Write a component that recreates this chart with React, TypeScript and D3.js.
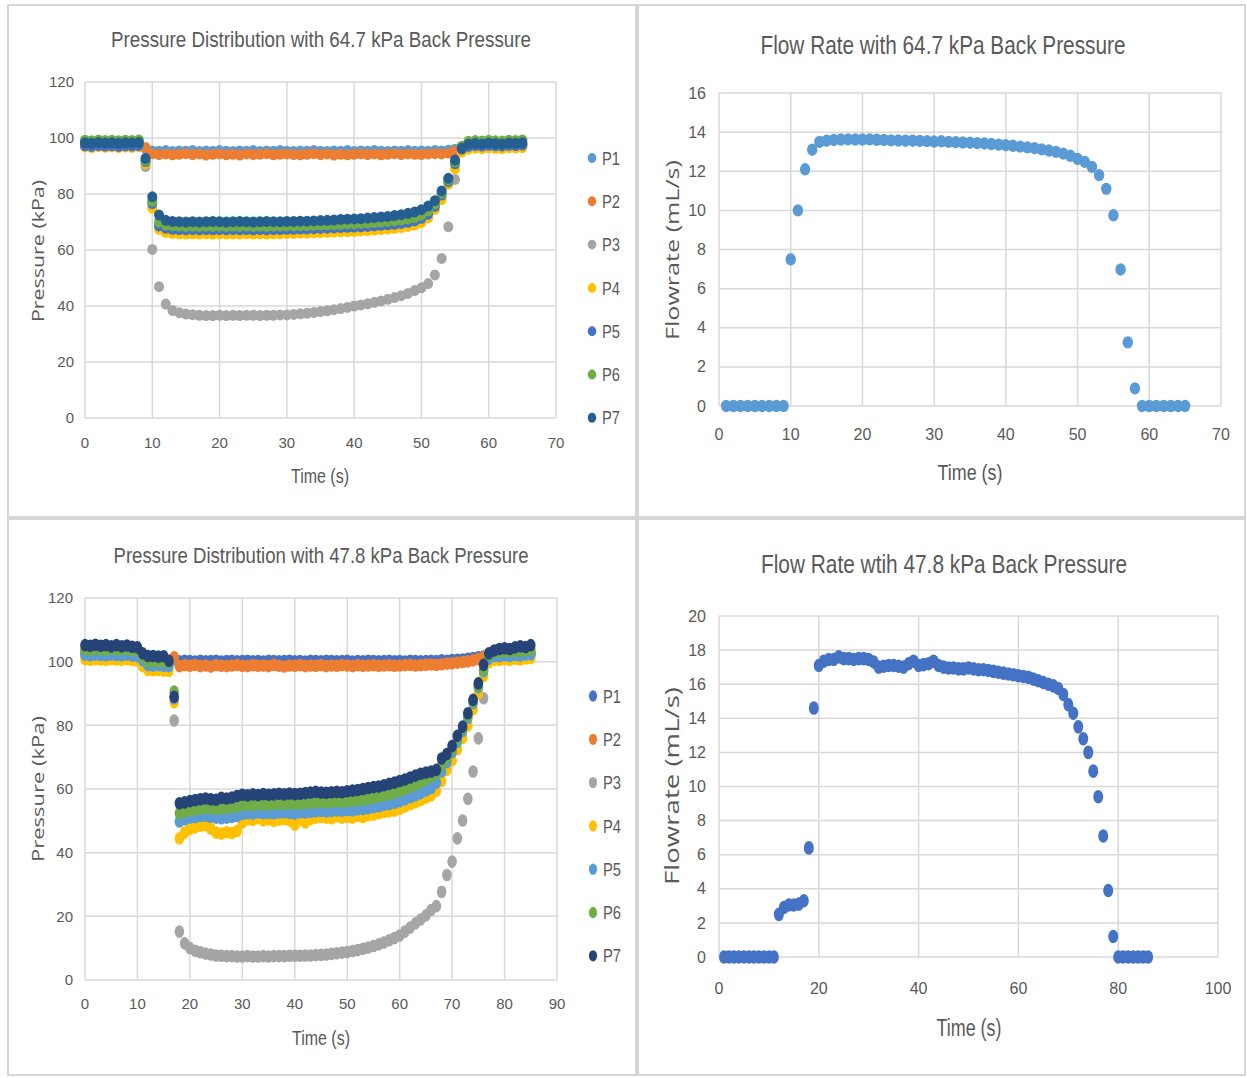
import React from "react";
import * as d3 from "d3";

// ---------- Pressure run, 64.7 kPa back pressure (t = 0..65 s) ----------
const timeA = d3.range(0, 66);
const a_P1 = [97.6,97.4,97.7,97.5,97.6,97.4,97.6,97.5,97.7,
  96.2,
  95.4,95.3,95.5,95.2,95.4,95.3,95.5,95.2,95.4,95.3,
  95.5,95.3,95.2,95.4,95.3,95.5,95.2,95.4,95.3,95.5,
  95.3,95.2,95.4,95.3,95.5,95.3,95.2,95.4,95.3,95.5,
  95.2,95.4,95.3,95.5,95.3,95.2,95.4,95.3,95.5,95.3,
  95.4,95.3,95.5,95.4,95.6,
  96.0,96.8,
  97.3,97.5,97.2,97.6,97.4,97.3,97.6,97.5,97.7];
const a_P2 = [97.8,97.6,97.9,97.7,97.8,97.6,97.8,97.7,97.9,
  96.6,
  94.4,94.1,94.3,94.0,94.2,94.4,94.1,94.3,93.9,94.2,
  94.3,94.0,94.2,93.9,94.3,94.1,94.2,94.4,94.0,94.2,
  94.3,94.1,94.0,94.2,94.4,94.1,94.3,93.9,94.2,94.0,
  94.2,94.3,94.1,94.3,94.0,94.2,94.4,94.1,94.3,94.2,
  94.1,94.3,94.4,94.3,94.6,
  95.3,97.0,
  97.6,97.8,97.5,97.9,97.7,97.6,97.9,97.8,98.0];
const a_P3 = [97.5,97.3,97.6,97.4,97.5,97.3,97.5,97.4,97.6,
  89.8,
  60.2,46.9,40.7,38.4,37.6,37.1,36.9,36.7,36.6,36.6,
  36.7,36.6,36.7,36.6,36.7,36.7,36.6,36.7,36.7,36.8,
  36.8,37.0,37.2,37.4,37.7,38.0,38.3,38.7,39.1,39.5,
  40.0,40.4,40.8,41.3,41.8,42.4,43.0,43.7,44.5,45.5,
  46.5,48.0,51.1,57.0,68.3,
  85.2,96.2,
  97.2,97.4,97.1,97.5,97.3,97.2,97.5,97.4,97.6];
const a_P4 = [96.8,96.6,96.9,96.7,96.8,96.6,96.8,96.7,96.9,
  90.8,
  75.0,67.4,66.3,65.9,65.8,65.7,65.8,65.7,65.8,65.7,
  65.8,65.7,65.8,65.7,65.8,65.7,65.8,65.7,65.8,65.8,
  65.9,65.9,66.0,66.0,66.1,66.2,66.3,66.4,66.5,66.6,
  66.7,66.8,66.9,67.1,67.3,67.5,67.7,68.0,68.4,68.9,
  69.8,71.5,74.5,78.0,83.5,
  89.0,95.0,
  96.0,96.4,96.2,96.5,96.3,96.2,96.5,96.4,96.6];
const a_P5 = [97.2,97.0,97.3,97.1,97.2,97.0,97.2,97.1,97.3,
  91.6,
  76.6,68.6,67.8,67.4,67.3,67.2,67.3,67.2,67.3,67.2,
  67.3,67.2,67.3,67.2,67.3,67.2,67.3,67.2,67.3,67.3,
  67.4,67.4,67.5,67.5,67.6,67.7,67.8,67.9,68.0,68.1,
  68.2,68.3,68.4,68.6,68.8,69.0,69.2,69.5,69.9,70.4,
  71.3,72.8,75.6,79.6,84.4,
  90.8,96.0,
  97.0,97.3,97.1,97.4,97.2,97.1,97.4,97.3,97.5];
const a_P6 = [99.2,99.0,99.3,99.1,99.2,99.0,99.2,99.1,99.3,
  92.0,
  77.4,70.0,68.9,68.6,68.5,68.4,68.5,68.4,68.5,68.4,
  68.5,68.4,68.5,68.4,68.5,68.4,68.5,68.4,68.5,68.5,
  68.6,68.6,68.7,68.7,68.8,68.9,69.0,69.1,69.2,69.3,
  69.4,69.5,69.6,69.8,70.0,70.2,70.4,70.7,71.1,71.6,
  72.5,74.0,76.5,80.3,85.0,
  91.5,97.0,
  98.8,99.1,98.9,99.2,99.0,98.9,99.2,99.1,99.3];
const a_P7 = [98.3,98.1,98.4,98.2,98.3,98.1,98.3,98.2,98.4,
  92.7,
  79.0,72.5,70.6,70.2,70.1,70.0,70.1,70.0,70.1,70.2,
  70.1,70.0,70.1,70.2,70.1,70.0,70.1,70.2,70.1,70.1,
  70.2,70.2,70.3,70.3,70.4,70.5,70.6,70.7,70.9,71.0,
  71.1,71.2,71.4,71.6,71.8,72.0,72.3,72.6,73.1,73.6,
  74.4,75.7,77.6,81.1,85.6,
  92.1,96.3,
  97.8,98.1,97.9,98.2,98.0,97.9,98.2,98.1,98.3];

// ---------- Flow run, 64.7 kPa back pressure (t = 1..65 s) ----------
const timeB = d3.range(1, 66);
const flowB = [0,0,0,0,0,0,0,0,0,
  7.5,10.0,12.1,13.1,13.5,13.56,13.6,13.62,13.63,13.62,
  13.62,13.63,13.61,13.6,13.58,13.57,13.56,13.56,13.55,13.54,
  13.52,13.53,13.5,13.49,13.47,13.46,13.44,13.42,13.39,13.36,
  13.33,13.3,13.26,13.22,13.18,13.12,13.06,12.99,12.9,12.79,
  12.63,12.48,12.22,11.8,11.1,9.75,6.98,3.25,0.9,
  0,0,0,0,0,0,0];

// ---------- Pressure run, 47.8 kPa back pressure (t = 0..85 s) ----------
const timeC = d3.range(0, 86);
const c_P1 = [102.4,102.2,102.4,102.3,102.2,102.4,102.3,102.2,102.4,102.1,102.0,
  100.8,
  99.6,99.5,99.6,99.4,99.3,
  100.8,
  100.1,100.3,100.2,100.0,100.3,100.1,100.2,100.3,100.0,100.2,
  100.3,100.1,100.2,100.3,100.1,100.2,100.0,100.3,100.2,100.1,
  100.2,100.3,100.1,100.2,100.0,100.3,100.2,100.1,100.3,100.2,
  100.1,100.2,100.3,100.0,100.2,100.1,100.3,100.2,100.1,100.2,
  100.3,100.1,100.2,100.0,100.3,100.2,100.1,100.2,100.3,100.2,
  100.4,100.3,100.5,100.6,100.7,100.9,101.1,101.4,
  101.6,
  102.0,102.2,102.1,102.3,102.2,102.4,102.3,102.5,102.6];
const c_P2 = [103.0,102.8,103.0,102.9,102.8,103.0,102.9,102.8,103.0,102.7,102.6,
  101.2,
  99.8,99.7,99.8,99.6,99.5,
  101.4,
  98.6,98.9,98.7,99.0,98.6,98.8,98.5,98.9,98.7,98.6,
  98.8,99.0,98.7,98.6,98.9,98.7,98.8,98.6,99.0,98.7,
  98.5,98.8,98.7,98.9,98.6,98.8,98.7,98.9,98.6,98.8,
  98.7,98.9,98.8,98.6,98.9,98.7,98.8,98.9,98.7,98.8,
  98.9,98.7,98.8,98.9,99.0,98.8,98.9,99.0,99.1,99.0,
  99.2,99.4,99.5,99.7,99.9,100.1,100.4,100.8,
  101.4,
  102.4,102.6,102.5,102.7,102.6,102.8,102.7,102.9,103.0];
const c_P3 = [102.3,102.1,102.3,102.2,102.1,102.3,102.2,102.1,102.3,102.0,101.9,
  100.4,
  99.2,99.1,99.2,99.0,98.9,
  81.5,
  15.2,11.5,10.0,9.2,8.7,8.3,8.0,7.7,7.6,7.5,
  7.5,7.4,7.4,7.5,7.4,7.4,7.5,7.4,7.5,7.5,
  7.5,7.6,7.6,7.6,7.7,7.7,7.8,7.9,8.0,8.2,
  8.4,8.6,8.8,9.1,9.4,9.8,10.2,10.7,11.2,11.8,
  12.5,13.2,14.0,15.2,16.5,17.8,19.0,20.3,22.0,23.2,
  27.7,33.0,37.2,44.5,50.1,56.9,65.5,75.9,
  88.5,
  100.6,101.5,101.8,102.0,101.9,102.2,102.1,102.3,102.4];
const c_P4 = [100.8,100.6,100.8,100.7,100.6,100.8,100.7,100.6,100.8,100.5,100.4,
  98.6,
  97.4,97.3,97.4,97.2,97.1,
  87.3,
  44.5,46.3,47.5,48.0,48.5,48.6,47.5,46.3,46.0,46.4,
  46.2,46.8,49.5,50.5,50.3,50.8,50.2,50.5,50.0,50.4,
  50.6,50.2,48.8,50.4,49.5,50.6,51.0,51.2,51.0,50.8,
  51.4,51.0,51.3,51.0,51.5,51.2,51.8,52.0,52.4,52.8,
  53.0,53.2,53.8,54.5,55.2,55.8,56.5,57.3,58.0,59.5,
  62.5,66.0,69.0,72.5,76.0,80.0,85.0,90.0,
  95.5,
  99.8,100.6,100.5,100.8,100.6,100.9,100.7,101.0,101.1];
const c_P5 = [102.2,102.0,102.2,102.1,102.0,102.2,102.1,102.0,102.2,101.9,101.8,
  100.4,
  98.9,98.8,98.9,98.7,98.6,
  88.5,
  49.8,50.5,51.0,51.2,51.5,51.6,51.3,51.0,50.8,51.0,
  51.2,51.5,52.2,52.4,52.3,52.6,52.4,52.5,52.4,52.6,
  52.7,52.5,52.3,52.7,52.6,52.8,53.0,53.1,53.0,53.1,
  53.3,53.2,53.4,53.3,53.6,53.7,54.0,54.3,54.6,55.0,
  55.3,55.7,56.2,56.8,57.4,58.0,58.7,59.5,60.3,62.0,
  65.5,68.5,71.5,74.8,78.2,82.3,87.0,92.0,
  97.0,
  101.0,101.8,101.7,102.0,101.8,102.1,101.9,102.2,102.3];
const c_P6 = [104.0,103.8,104.0,103.9,103.8,104.0,103.9,103.8,104.0,103.7,103.6,
  101.6,
  100.2,100.1,100.2,100.0,99.9,
  90.6,
  52.4,53.0,53.3,53.6,53.8,54.0,54.0,53.8,53.9,54.1,
  54.3,54.6,55.0,55.1,55.0,55.2,55.1,55.3,55.2,55.4,
  55.3,55.5,55.4,55.5,55.6,55.7,55.8,55.9,55.8,56.0,
  56.1,56.0,56.2,56.3,56.5,56.7,57.0,57.3,57.7,58.0,
  58.4,58.9,59.4,60.0,60.7,61.4,62.2,63.0,64.0,65.0,
  67.5,70.0,72.5,75.8,79.0,83.0,87.5,92.5,
  97.5,
  102.0,103.2,103.1,103.4,103.2,103.5,103.3,103.6,103.8];
const c_P7 = [105.2,105.0,105.3,105.0,105.2,104.8,105.2,104.8,105.1,104.7,104.5,
  102.6,
  101.8,101.8,101.6,101.7,100.3,
  89.0,
  55.5,55.8,56.2,56.5,56.8,57.0,56.8,56.6,57.2,57.0,
  57.3,57.8,58.2,58.0,58.3,58.1,58.4,58.2,58.3,58.5,
  58.3,58.6,58.4,58.5,58.7,58.9,59.1,58.9,58.8,59.0,
  59.1,59.0,59.3,59.5,59.7,60.0,60.3,60.6,60.8,61.2,
  61.6,62.0,62.5,63.0,63.6,64.2,64.8,65.2,65.5,66.0,
  69.6,71.0,73.5,76.7,79.6,83.8,88.0,93.2,
  99.0,
  102.6,103.5,104.0,104.2,104.0,104.5,104.8,104.6,105.2];

// ---------- Flow run, 47.8 kPa back pressure (t = 1..86 s) ----------
const timeD = d3.range(1, 87);
const flowD = [0,0,0,0,0,0,0,0,0,0,0,
  2.5,2.9,3.05,3.05,3.1,3.3,
  6.4,14.6,
  17.1,17.35,17.45,17.45,17.6,17.5,17.5,17.45,17.5,17.5,
  17.45,17.3,17.0,17.05,17.1,17.1,17.05,17.0,17.2,17.35,
  17.1,17.15,17.2,17.35,17.1,17.0,16.95,16.95,16.9,16.9,
  16.95,16.9,16.85,16.85,16.8,16.75,16.7,16.65,16.6,16.55,
  16.5,16.45,16.4,16.3,16.2,16.1,16.0,15.9,15.75,15.4,
  14.8,14.3,13.5,12.8,12.0,10.9,9.4,7.1,3.9,1.2,
  0,0,0,0,0,0,0];

const seriesNames = ["P1", "P2", "P3", "P4", "P5", "P6", "P7"];
const paletteA = ["#5B9BD5", "#ED7D31", "#A5A5A5", "#FFC000", "#4472C4", "#70AD47", "#255E91"];
const paletteC = ["#4472C4", "#ED7D31", "#A5A5A5", "#FFC000", "#5B9BD5", "#70AD47", "#264478"];

const ticksA_x = [0, 10, 20, 30, 40, 50, 60, 70];
const ticksA_y = [0, 20, 40, 60, 80, 100, 120];
const ticksB_x = [0, 10, 20, 30, 40, 50, 60, 70];
const ticksB_y = [0, 2, 4, 6, 8, 10, 12, 14, 16];
const ticksC_x = [0, 10, 20, 30, 40, 50, 60, 70, 80, 90];
const ticksC_y = [0, 20, 40, 60, 80, 100, 120];
const ticksD_x = [0, 20, 40, 60, 80, 100];
const ticksD_y = [0, 2, 4, 6, 8, 10, 12, 14, 16, 18, 20];

const TEXT = "#595959";
const GRID = "#D9D9D9";
const NARROW = "'Liberation Sans Narrow', 'Liberation Sans', Arial, sans-serif";
const WIDE = "'Open Sans', 'DejaVu Sans', sans-serif";

type Series = { name: string; color: string; values: number[] };
type Label = { text: string; x: number; y: number; size: number; len: number };

type PanelProps = {
  frame: [number, number, number, number];
  plot: { x0: number; x1: number; yTop: number; yBottom: number };
  xMax: number;
  yMax: number;
  xTicks: number[];
  yTicks: number[];
  time: number[];
  series: Series[];
  rx: number;
  ry: number;
  title: Label;
  yTitle: Label;
  xTitle: Label;
  tickSize: number;
  xTickY: number;
  yTickX: number;
  legend?: { markerX: number; labelX: number; y0: number; step: number; size: number };
};

function Panel(p: PanelProps) {
  const x = d3.scaleLinear().domain([0, p.xMax]).range([p.plot.x0, p.plot.x1]);
  const y = d3.scaleLinear().domain([0, p.yMax]).range([p.plot.yBottom, p.plot.yTop]);
  const [fx, fy, fw, fh] = p.frame;
  return (
    <g>
      <rect x={fx} y={fy} width={fw} height={fh} fill="#fff" stroke="#D6D6D6" strokeWidth={2} />
      <text
        x={p.title.x} y={p.title.y} textAnchor="middle" fontFamily={NARROW}
        fontSize={p.title.size} fill={TEXT} textLength={p.title.len} lengthAdjust="spacingAndGlyphs"
      >{p.title.text}</text>
      {p.yTicks.map((t) => (
        <line key={"gy" + t} x1={p.plot.x0} x2={p.plot.x1} y1={y(t)} y2={y(t)} stroke={GRID} strokeWidth={1.5} />
      ))}
      {p.xTicks.map((t) => (
        <line key={"gx" + t} x1={x(t)} x2={x(t)} y1={p.plot.yTop} y2={p.plot.yBottom} stroke={GRID} strokeWidth={1.5} />
      ))}
      {p.yTicks.map((t) => (
        <text key={"ty" + t} x={p.yTickX} y={y(t)} dy="0.35em" textAnchor="end"
          fontFamily={NARROW} fontSize={p.tickSize} fill={TEXT}>{t}</text>
      ))}
      {p.xTicks.map((t) => (
        <text key={"tx" + t} x={x(t)} y={p.xTickY} dy="0.35em" textAnchor="middle"
          fontFamily={NARROW} fontSize={p.tickSize} fill={TEXT}>{t}</text>
      ))}
      {p.series.map((s) => (
        <g key={s.name} fill={s.color}>
          {s.values.map((v, i) => (
            <ellipse key={i} cx={x(p.time[i])} cy={y(v)} rx={p.rx} ry={p.ry} />
          ))}
        </g>
      ))}
      <text
        transform={`translate(${p.yTitle.x},${p.yTitle.y}) rotate(-90)`} textAnchor="middle" dy="0.35em"
        fontFamily={WIDE} fontSize={p.yTitle.size} fill={TEXT}
        textLength={p.yTitle.len} lengthAdjust="spacingAndGlyphs"
      >{p.yTitle.text}</text>
      <text
        x={p.xTitle.x} y={p.xTitle.y} dy="0.35em" textAnchor="middle" fontFamily={NARROW}
        fontSize={p.xTitle.size} fill={TEXT} textLength={p.xTitle.len} lengthAdjust="spacingAndGlyphs"
      >{p.xTitle.text}</text>
      {p.legend &&
        p.series.map((s, i) => {
          const lg = p.legend!;
          const ly = lg.y0 + i * lg.step;
          return (
            <g key={"lg" + s.name}>
              <ellipse cx={lg.markerX} cy={ly} rx={p.rx * 0.85} ry={p.ry * 0.9} fill={s.color} />
              <text x={lg.labelX} y={ly} dy="0.35em" fontFamily={NARROW} fontSize={lg.size} fill={TEXT}
                textLength={18} lengthAdjust="spacingAndGlyphs">{s.name}</text>
            </g>
          );
        })}
    </g>
  );
}

export default function App() {
  const seriesA: Series[] = [a_P1, a_P2, a_P3, a_P4, a_P5, a_P6, a_P7].map((v, i) => ({
    name: seriesNames[i], color: paletteA[i], values: v,
  }));
  const seriesC: Series[] = [c_P1, c_P2, c_P3, c_P4, c_P5, c_P6, c_P7].map((v, i) => ({
    name: seriesNames[i], color: paletteC[i], values: v,
  }));
  return (
    <div style={{ position: "absolute", left: 0, top: 0 }}>
      <svg width={1247} height={1078} style={{ display: "block", background: "#fff" }}>
        <Panel
          frame={[8, 5, 628, 512]}
          plot={{ x0: 85, x1: 556, yTop: 82, yBottom: 418 }}
          xMax={70} yMax={120} xTicks={ticksA_x} yTicks={ticksA_y}
          time={timeA} series={seriesA} rx={5} ry={5.5}
          title={{ text: "Pressure Distribution with 64.7 kPa Back Pressure", x: 321, y: 47, size: 22, len: 420 }}
          yTitle={{ text: "Pressure (kPa)", x: 38, y: 251, size: 17, len: 142 }}
          xTitle={{ text: "Time (s)", x: 320, y: 476, size: 20, len: 58 }}
          tickSize={15} xTickY={443} yTickX={74}
          legend={{ markerX: 592, labelX: 602, y0: 158, step: 43.3, size: 19 }}
        />
        <Panel
          frame={[638, 5, 607, 512]}
          plot={{ x0: 719, x1: 1221, yTop: 93, yBottom: 406 }}
          xMax={70} yMax={16} xTicks={ticksB_x} yTicks={ticksB_y}
          time={timeB} series={[{ name: "Flow", color: "#5B9BD5", values: flowB }]}
          rx={5.2} ry={6.2}
          title={{ text: "Flow Rate with 64.7 kPa Back Pressure", x: 943, y: 54, size: 25, len: 365 }}
          yTitle={{ text: "Flowrate (mL/s)", x: 672, y: 250, size: 19, len: 180 }}
          xTitle={{ text: "Time (s)", x: 970, y: 472, size: 22, len: 65 }}
          tickSize={16} xTickY={434} yTickX={706}
        />
        <Panel
          frame={[8, 519, 628, 556]}
          plot={{ x0: 85, x1: 557, yTop: 598, yBottom: 980 }}
          xMax={90} yMax={120} xTicks={ticksC_x} yTicks={ticksC_y}
          time={timeC} series={seriesC} rx={4.8} ry={6.3}
          title={{ text: "Pressure Distribution with 47.8 kPa Back Pressure", x: 321, y: 563, size: 22, len: 415 }}
          yTitle={{ text: "Pressure (kPa)", x: 38, y: 789, size: 17, len: 146 }}
          xTitle={{ text: "Time (s)", x: 321, y: 1038, size: 21, len: 58 }}
          tickSize={15} xTickY={1004} yTickX={73}
          legend={{ markerX: 593, labelX: 603, y0: 696, step: 43.3, size: 19 }}
        />
        <Panel
          frame={[638, 519, 607, 556]}
          plot={{ x0: 719, x1: 1218, yTop: 616, yBottom: 957 }}
          xMax={100} yMax={20} xTicks={ticksD_x} yTicks={ticksD_y}
          time={timeD} series={[{ name: "Flow", color: "#4472C4", values: flowD }]}
          rx={5} ry={6.8}
          title={{ text: "Flow Rate wtih 47.8 kPa Back Pressure", x: 944, y: 573, size: 25, len: 366 }}
          yTitle={{ text: "Flowrate (mL/s)", x: 672, y: 786, size: 20, len: 198 }}
          xTitle={{ text: "Time (s)", x: 969, y: 1028, size: 23, len: 65 }}
          tickSize={16} xTickY={988} yTickX={706}
        />
      </svg>
    </div>
  );
}
